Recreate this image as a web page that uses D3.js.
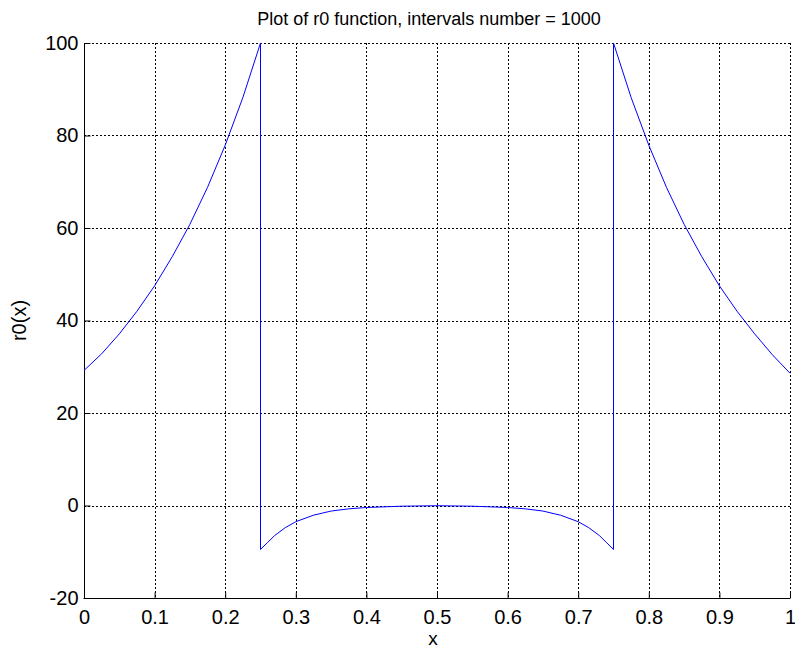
<!DOCTYPE html>
<html>
<head>
<meta charset="utf-8">
<script src="https://cdn.jsdelivr.net/npm/d3@7"></script>
<style>
  body { margin: 0; background: #fff; }
  text { font-family: "Liberation Sans", Arial, sans-serif; fill: #000; }
</style>
</head>
<body>
<svg id="chart" width="795" height="650"></svg>
<script>
// values: r0(x), with the jumps at x = 0.25 and 0.75
let xs = [0, 0.025, 0.05, 0.075, 0.1, 0.125, 0.15, 0.175, 0.2, 0.225, 0.25,
          0.25, 0.26, 0.27, 0.285, 0.3, 0.325, 0.35, 0.375, 0.4, 0.45, 0.5,
          0.55, 0.6, 0.625, 0.65, 0.675, 0.7, 0.715, 0.73, 0.74, 0.75,
          0.75, 0.775, 0.8, 0.825, 0.85, 0.875, 0.9, 0.925, 0.95, 0.975, 1]
let r0 = [29.2, 32.8, 37.1, 42.0, 47.5, 53.8, 60.8, 68.8, 77.9, 88.2, 100,
          -9.5, -8.0, -6.5, -4.8, -3.5, -2.1, -1.2, -0.72, -0.43, -0.15, -0.05,
          -0.15, -0.43, -0.72, -1.2, -2.1, -3.5, -4.8, -6.5, -8.0, -9.5,
          100, 88.2, 77.9, 68.8, 60.8, 53.8, 47.5, 42.0, 37.1, 32.6, 28.6]
let xTicks = [0, 0.1, 0.2, 0.3, 0.4, 0.5, 0.6, 0.7, 0.8, 0.9, 1]
let yTicks = [-20, 0, 20, 40, 60, 80, 100]

let data = xs.map((x, i) => ({ x: x, y: r0[i] }))

let width = 795
let height = 650
let margin = { top: 43, right: 5, bottom: 52, left: 84 }
let svg = d3.select("#chart")

let x = d3.scaleLinear()
    .domain([0, 1])
    .range([margin.left, width - margin.right])

let y = d3.scaleLinear()
    .domain([-20, 100])
    .range([height - margin.bottom, margin.top])

// dotted grid
let grid = svg.append("g").attr("class", "grid")
grid.selectAll(".vgrid")
    .data(xTicks.filter(d => d > 0))
    .join("line")
    .attr("x1", d => Math.round(x(d)) + 0.5)
    .attr("x2", d => Math.round(x(d)) + 0.5)
    .attr("y1", y(100))
    .attr("y2", y(-20))
    .style("stroke", "#000")
    .style("stroke-width", 1)
    .style("stroke-dasharray", "2,2")

grid.selectAll(".hgrid")
    .data(yTicks.filter(d => d > -20))
    .join("line")
    .attr("x1", x(0))
    .attr("x2", x(1))
    .attr("y1", d => Math.round(y(d)) + 0.5)
    .attr("y2", d => Math.round(y(d)) + 0.5)
    .style("stroke", "#000")
    .style("stroke-width", 1)
    .style("stroke-dasharray", "2,2")

// axes with ticks pointing inward
let xAxis = svg.append("g")
    .attr("transform", `translate(0,${Math.round(y(-20)) + 0.5})`)
    .call(d3.axisBottom(x)
        .tickValues(xTicks)
        .tickSize(-6)
        .tickPadding(11)
        .tickFormat(d => String(d)))

let yAxis = svg.append("g")
    .attr("transform", `translate(${Math.round(x(0)) + 0.5},0)`)
    .call(d3.axisLeft(y)
        .tickValues(yTicks)
        .tickSize(-6)
        .tickPadding(6)
        .tickFormat(d => String(d)))

xAxis.select(".domain").attr("d", `M${x(0) - 0.5},0H${x(1)}`)
yAxis.select(".domain").attr("d", `M0,${y(100)}V${y(-20) + 0.5}`)
svg.selectAll(".domain").style("stroke", "#000")
svg.selectAll(".tick line").style("stroke", "#000")
svg.selectAll(".tick text")
    .style("font-size", "20px")
    .style("font-family", "'Liberation Sans', Arial, sans-serif")

// the curve
let line = d3.line()
    .x(d => x(d.x))
    .y(d => y(d.y))

svg.append("path")
    .datum(data)
    .attr("d", line)
    .style("fill", "none")
    .style("stroke", "#0000ff")
    .style("stroke-width", 1)

// texts
svg.append("text")
    .attr("x", 429)
    .attr("y", 25)
    .attr("text-anchor", "middle")
    .style("font-size", "18px")
    .text("Plot of r0 function, intervals number = 1000")

svg.append("text")
    .attr("x", 433)
    .attr("y", 645)
    .attr("text-anchor", "middle")
    .style("font-size", "19px")
    .text("x")

svg.append("text")
    .attr("transform", `translate(26,${(y(100) + y(-20)) / 2}) rotate(-90)`)
    .attr("text-anchor", "middle")
    .style("font-size", "20px")
    .text("r0(x)")
</script>
</body>
</html>
